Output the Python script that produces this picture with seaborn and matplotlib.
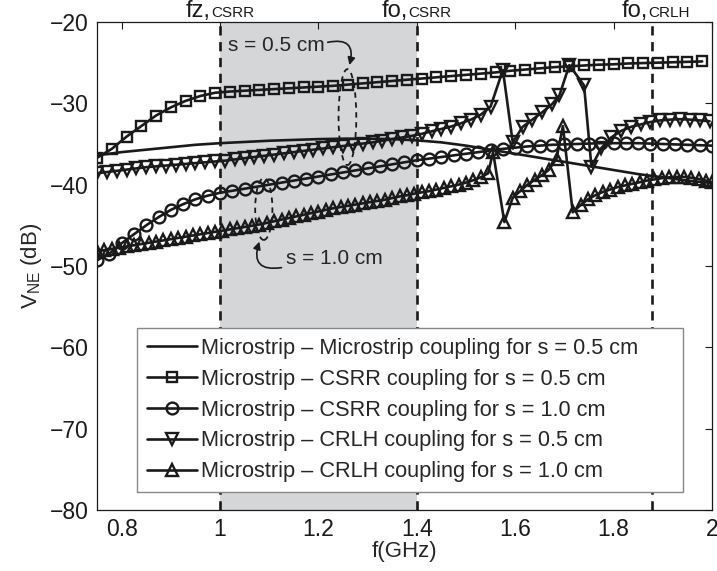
import matplotlib
matplotlib.use("Agg")
import numpy as np
import pandas as pd
import seaborn as sns
import matplotlib.pyplot as plt
from matplotlib.patches import Ellipse
from matplotlib.offsetbox import TextArea, HPacker, AnnotationBbox

# ---------------- data ----------------
# Microstrip - Microstrip coupling, s = 0.5 cm (no markers)
f_mm = [0.75, 0.80, 0.85, 0.90, 0.95, 1.00, 1.05, 1.10, 1.15, 1.20, 1.25, 1.30, 1.35,
        1.40, 1.45, 1.50, 1.55, 1.60, 1.65, 1.70, 1.75, 1.80, 1.85, 1.90, 1.95, 2.00]
v_mm = [-36.4, -36.0, -35.7, -35.4, -35.1, -34.9, -34.75, -34.6, -34.5, -34.4, -34.35,
        -34.35, -34.4, -34.55, -34.8, -35.2, -35.7, -36.2, -36.7, -37.2, -37.7, -38.2,
        -38.7, -39.1, -39.5, -39.8]

# Microstrip - CSRR coupling, s = 0.5 cm (squares)
f_csrr05 = [0.75, 0.78, 0.81, 0.84, 0.87, 0.90, 0.93, 0.96, 0.99, 1.02, 1.05, 1.08, 1.11,
            1.14, 1.17, 1.20, 1.23, 1.26, 1.29, 1.32, 1.35, 1.38, 1.41, 1.44, 1.47, 1.50,
            1.53, 1.56, 1.59, 1.62, 1.65, 1.68, 1.71, 1.74, 1.77, 1.80, 1.83, 1.86, 1.89,
            1.92, 1.95, 1.98]
v_csrr05 = [-36.7, -35.6, -34.1, -32.8, -31.5, -30.5, -29.7, -29.1, -28.7, -28.55, -28.45,
            -28.35, -28.25, -28.15, -28.05, -27.95, -27.85, -27.7, -27.55, -27.4, -27.25,
            -27.1, -26.95, -26.8, -26.65, -26.5, -26.35, -26.2, -26.0, -25.85, -25.7,
            -25.55, -25.45, -25.35, -25.25, -25.2, -25.1, -25.05, -25.0, -24.95, -24.9,
            -24.85]

# Microstrip - CSRR coupling, s = 1.0 cm (circles)
f_csrr10 = [0.750, 0.775, 0.800, 0.825, 0.850, 0.875, 0.900, 0.925, 0.950, 0.975, 1.000,
            1.025, 1.050, 1.075, 1.100, 1.125, 1.150, 1.175, 1.200, 1.225, 1.250, 1.275,
            1.300, 1.325, 1.350, 1.375, 1.400, 1.425, 1.450, 1.475, 1.500, 1.525, 1.550,
            1.575, 1.600, 1.625, 1.650, 1.675, 1.700, 1.725, 1.750, 1.775, 1.800, 1.825,
            1.850, 1.875, 1.900, 1.925, 1.950, 1.975, 2.000]
v_csrr10 = [-49.3, -48.5, -47.2, -46.1, -45.0, -44.0, -43.1, -42.4, -41.8, -41.35, -41.0,
            -40.75, -40.5, -40.25, -40.0, -39.75, -39.5, -39.25, -39.0, -38.75, -38.5,
            -38.25, -38.0, -37.75, -37.5, -37.25, -37.0, -36.8, -36.6, -36.4, -36.2, -36.0,
            -35.8, -35.6, -35.45, -35.3, -35.2, -35.1, -35.05, -35.0, -34.95, -34.9, -34.9,
            -34.9, -34.9, -34.95, -35.0, -35.05, -35.1, -35.15, -35.2]

# Microstrip - CRLH coupling, s = 0.5 cm (down triangles)
f_crlh05 = [0.75, 0.77, 0.79, 0.81, 0.83, 0.85, 0.87, 0.89, 0.91, 0.93, 0.95, 0.97, 0.99,
            1.01, 1.03, 1.05, 1.07, 1.09, 1.11, 1.13, 1.15, 1.17, 1.19, 1.21, 1.23, 1.25,
            1.27, 1.29, 1.31, 1.33, 1.35, 1.37, 1.39, 1.41, 1.43, 1.45, 1.47, 1.49, 1.51,
            1.53, 1.55, 1.575, 1.595, 1.615, 1.635, 1.655, 1.675, 1.69, 1.71, 1.74, 1.755,
            1.775, 1.795, 1.815, 1.835, 1.855, 1.875, 1.895, 1.915, 1.935, 1.955, 1.975,
            1.995]
v_crlh05 = [-38.6, -38.45, -38.3, -38.15, -38.0, -37.85, -37.75, -37.65, -37.55, -37.45,
            -37.35, -37.25, -37.15, -37.05, -36.9, -36.75, -36.6, -36.45, -36.3, -36.15,
            -36.0, -35.85, -35.7, -35.55, -35.4, -35.25, -35.1, -34.95, -34.8, -34.6, -34.4,
            -34.2, -34.0, -33.75, -33.45, -33.15, -32.85, -32.45, -32.0, -31.4, -30.4,
            -25.9, -34.8, -32.9, -32.0, -31.1, -30.1, -29.0, -25.3, -27.8, -37.8, -35.5,
            -34.2, -33.4, -32.9, -32.6, -32.3, -32.1, -32.0, -31.95, -32.0, -32.1, -32.2]

# Microstrip - CRLH coupling, s = 1.0 cm (up triangles)
f_crlh10 = [0.750, 0.765, 0.780, 0.795, 0.810, 0.825, 0.840, 0.855, 0.870, 0.885, 0.900,
            0.915, 0.930, 0.945, 0.960, 0.975, 0.990, 1.005, 1.020, 1.035, 1.050, 1.065,
            1.080, 1.095, 1.110, 1.125, 1.140, 1.155, 1.170, 1.185, 1.200, 1.215, 1.230,
            1.245, 1.260, 1.275, 1.290, 1.305, 1.320, 1.335, 1.350, 1.365, 1.380, 1.395,
            1.410, 1.425, 1.440, 1.455, 1.470, 1.485, 1.500, 1.515, 1.530, 1.545, 1.555,
            1.578, 1.595, 1.610, 1.625, 1.640, 1.655, 1.668, 1.684, 1.697, 1.717, 1.733,
            1.748, 1.763, 1.778, 1.793, 1.808, 1.823, 1.838, 1.853, 1.868, 1.883, 1.898,
            1.913, 1.928, 1.943, 1.958, 1.973, 1.988, 2.000]
v_crlh10 = [-48.2, -48.05, -47.9, -47.75, -47.6, -47.45, -47.3, -47.15, -47.0, -46.85,
            -46.7, -46.55, -46.4, -46.25, -46.1, -45.95, -45.8, -45.65, -45.5, -45.35,
            -45.2, -45.05, -44.9, -44.7, -44.5, -44.3, -44.1, -43.9, -43.7, -43.5, -43.3,
            -43.1, -42.9, -42.75, -42.6, -42.45, -42.3, -42.15, -42.0, -41.85, -41.65,
            -41.45, -41.3, -41.1, -40.95, -40.8, -40.6, -40.4, -40.2, -40.0, -39.75,
            -39.45, -39.1, -38.6, -36.0, -44.6, -41.6, -40.8, -40.0, -39.4, -38.8, -38.2,
            -36.8, -32.8, -43.4, -42.5, -41.8, -41.3, -40.9, -40.6, -40.3, -40.1, -39.9,
            -39.7, -39.5, -39.35, -39.2, -39.1, -39.05, -39.05, -39.15, -39.3, -39.5,
            -39.7]

labels = ["Microstrip \u2013 Microstrip coupling for s = 0.5 cm",
          "Microstrip \u2013 CSRR coupling for s = 0.5 cm",
          "Microstrip \u2013 CSRR coupling for s = 1.0 cm",
          "Microstrip \u2013 CRLH coupling for s = 0.5 cm",
          "Microstrip \u2013 CRLH coupling for s = 1.0 cm"]

# characteristic frequencies (GHz)
f_z_csrr = 1.0
f_o_csrr = 1.4
f_o_crlh = 1.878

x_ticks = [0.8, 1.0, 1.2, 1.4, 1.6, 1.8, 2.0]
x_ticklabels = ["0.8", "1", "1.2", "1.4", "1.6", "1.8", "2"]
y_ticks = [-80, -70, -60, -50, -40, -30, -20]

# ---------------- style ----------------
sns.set_theme(style="white")
plt.rcParams["font.family"] = ["Liberation Sans Narrow", "Liberation Sans", "DejaVu Sans"]
plt.rcParams["axes.unicode_minus"] = True
plt.rcParams["mathtext.fontset"] = "custom"
plt.rcParams["mathtext.rm"] = "Liberation Sans Narrow"

fig = plt.figure(figsize=(7.17, 5.71), dpi=100)
ax = fig.add_axes([0.1353, 0.1068, 0.8577, 0.8547])

# shaded CSRR band and characteristic-frequency markers
ax.axvspan(f_z_csrr, f_o_csrr, color="#d5d6d8", zorder=0, lw=0)
for fx in (f_z_csrr, f_o_csrr, f_o_crlh):
    ax.axvline(fx, color="k", lw=1.9, ls=(0, (3.5, 2.5)), zorder=1)

common = dict(ax=ax, color="k", linewidth=1.9, markerfacecolor="none",
              markeredgecolor="k", markeredgewidth=1.7, zorder=3)
sns.lineplot(x=f_mm, y=v_mm, label=labels[0], **common)
sns.lineplot(x=f_csrr05, y=v_csrr05, label=labels[1], marker="s", markersize=7.5, **common)
sns.lineplot(x=f_csrr10, y=v_csrr10, label=labels[2], marker="o", markersize=8.5, **common)
sns.lineplot(x=f_crlh05, y=v_crlh05, label=labels[3], marker="v", markersize=9, **common)
sns.lineplot(x=f_crlh10, y=v_crlh10, label=labels[4], marker="^", markersize=9, **common)

ax.set_xlim(0.75, 2.0)
ax.set_ylim(-80, -20)
ax.set_xticks(x_ticks)
ax.set_xticklabels(x_ticklabels)
ax.set_yticks(y_ticks)
ax.tick_params(direction="in", length=5, width=0.8, top=True, right=True,
               labelsize=16.5, colors="k", pad=6)
for sp in ax.spines.values():
    sp.set_color("k")
    sp.set_linewidth(0.9)

ax.set_xlabel("f(GHz)", fontsize=16, labelpad=0)
ax.set_ylabel(r"V$_{\mathregular{NE}}$ (dB)", fontsize=16, labelpad=4)

leg = ax.legend(loc="lower left", bbox_to_anchor=(0.065, 0.037, 0.888, 0.32),
                mode="expand", borderaxespad=0,
                fontsize=15.7, frameon=True, fancybox=False, framealpha=1,
                facecolor="white", edgecolor="#888888", handlelength=2.3,
                handletextpad=0.2, labelspacing=0.45, borderpad=0.45)
leg.get_frame().set_linewidth(1.0)
leg.set_zorder(5)

# gap annotations with dashed ellipses and curved arrows
ax.add_patch(Ellipse((1.259, -31.7), 0.036, 11.8, fill=False, ec="k", lw=1.3,
                     ls=(0, (3, 2.5)), zorder=4))
ax.add_patch(Ellipse((1.089, -43.0), 0.035, 7.6, fill=False, ec="k", lw=1.3,
                     ls=(0, (3, 2.5)), zorder=4))
ax.text(1.114, -22.95, "s = 0.5 cm", ha="center", va="center", fontsize=15, zorder=6)
ax.text(1.232, -49.1, "s = 1.0 cm", ha="center", va="center", fontsize=15, zorder=6)
ax.annotate("", xy=(1.263, -25.3), xytext=(1.219, -22.5),
            arrowprops=dict(arrowstyle="-|>", color="k", lw=1.2, mutation_scale=11,
                            shrinkA=0, shrinkB=0, connectionstyle="arc3,rad=-0.8"))
ax.annotate("", xy=(1.080, -47.0), xytext=(1.125, -50.2),
            arrowprops=dict(arrowstyle="-|>", color="k", lw=1.2, mutation_scale=11,
                            shrinkA=0, shrinkB=0, connectionstyle="arc3,rad=-0.8"))

# frequency labels above the frame
def top_label(xpos, main, sub):
    box = HPacker(children=[TextArea(main, textprops=dict(size=17, color="k")),
                            TextArea(sub, textprops=dict(size=11, color="k"))],
                  align="baseline", pad=0, sep=0)
    ab = AnnotationBbox(box, (xpos, 1.0), xycoords=("data", "axes fraction"),
                        box_alignment=(0.5, 0.0), frameon=False, pad=0.1,
                        annotation_clip=False)
    ax.add_artist(ab)

top_label(f_z_csrr, "fz,", "CSRR")
top_label(f_o_csrr, "fo,", "CSRR")
top_label(1.885, "fo,", "CRLH")

fig.savefig("out.png", dpi=100)
